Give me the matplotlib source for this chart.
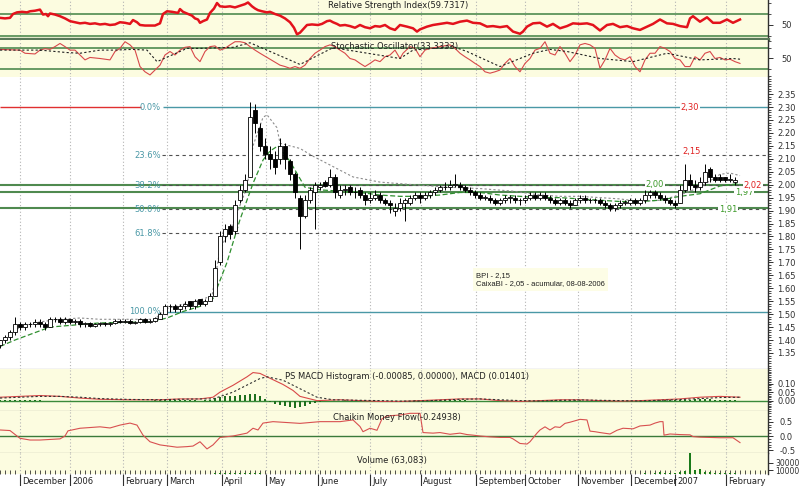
import numpy as np
import matplotlib
matplotlib.use("Agg")
import matplotlib.pyplot as plt
from matplotlib.ticker import FixedLocator, FixedFormatter, MultipleLocator, NullFormatter

plt.rcParams['font.family'] = ['DejaVu Sans']

# x axis: one bar = two sessions, month starts on that scale
month_pos = [4.0, 14.0, 24.6, 33.4, 44.4, 53.2, 63.6, 74.0, 84.2, 95.2, 105.0, 115.6, 126.2, 135.0, 145.2]
month_names = ["December", "2006", "February", "March", "April", "May", "June", "July",
               "August", "September", "October", "November", "December", "2007", "February"]

# price candles
opens = [1.38, 1.40, 1.41, 1.43, 1.46, 1.45, 1.46, 1.46, 1.47, 1.46,
         1.45, 1.48, 1.48, 1.47, 1.48, 1.47, 1.475, 1.46, 1.465, 1.455,
         1.46, 1.465, 1.46, 1.465, 1.475, 1.47, 1.475, 1.465, 1.47, 1.48,
         1.47, 1.475, 1.48, 1.50, 1.53, 1.53, 1.52, 1.53, 1.55, 1.53,
         1.56, 1.54, 1.55, 1.57, 1.70, 1.80, 1.84, 1.82, 1.94, 1.98,
         2.03, 2.29, 2.22, 2.15, 2.12, 2.10, 2.10, 2.15, 2.09, 2.04,
         1.95, 1.88, 1.94, 1.97, 1.99, 2.01, 2.00, 2.03, 1.96, 1.98,
         1.99, 1.97, 1.98, 1.96, 1.94, 1.95, 1.96, 1.94, 1.93, 1.90,
         1.91, 1.93, 1.93, 1.95, 1.96, 1.95, 1.96, 1.97, 1.98, 1.99,
         1.99, 2.00, 2.00, 1.99, 1.98, 1.97, 1.96, 1.95, 1.95, 1.94,
         1.93, 1.94, 1.95, 1.95, 1.94, 1.94, 1.95, 1.96, 1.95, 1.96,
         1.95, 1.94, 1.93, 1.94, 1.93, 1.92, 1.94, 1.95, 1.94, 1.94,
         1.94, 1.93, 1.92, 1.91, 1.92, 1.93, 1.93, 1.94, 1.93, 1.94,
         1.96, 1.97, 1.96, 1.95, 1.94, 1.93, 1.93, 1.98, 2.02, 2.00,
         1.99, 2.01, 2.06, 2.03, 2.03, 2.03, 2.02, 2.01]
highs = [1.40, 1.42, 1.44, 1.49, 1.47, 1.47, 1.47, 1.48, 1.48, 1.47,
         1.49, 1.49, 1.49, 1.49, 1.48, 1.48, 1.48, 1.47, 1.47, 1.465,
         1.47, 1.47, 1.47, 1.48, 1.48, 1.48, 1.48, 1.475, 1.485, 1.485,
         1.48, 1.49, 1.51, 1.54, 1.54, 1.54, 1.54, 1.55, 1.55, 1.56,
         1.56, 1.56, 1.58, 1.71, 1.82, 1.85, 1.85, 1.94, 2.00, 2.04,
         2.32, 2.31, 2.24, 2.18, 2.15, 2.13, 2.18, 2.16, 2.10, 2.05,
         1.96, 1.96, 1.99, 2.01, 2.01, 2.02, 2.06, 2.04, 2.00, 2.00,
         2.00, 1.99, 1.99, 1.97, 1.97, 1.98, 1.97, 1.95, 1.94, 1.93,
         1.95, 1.95, 1.96, 1.97, 1.97, 1.97, 1.98, 1.99, 2.00, 2.01,
         2.02, 2.04, 2.01, 2.00, 1.99, 1.98, 1.97, 1.96, 1.96, 1.95,
         1.95, 1.96, 1.96, 1.96, 1.95, 1.96, 1.97, 1.97, 1.97, 1.97,
         1.96, 1.95, 1.95, 1.95, 1.94, 1.95, 1.96, 1.96, 1.95, 1.95,
         1.95, 1.94, 1.93, 1.93, 1.94, 1.94, 1.95, 1.95, 1.95, 1.98,
         1.98, 1.98, 1.97, 1.96, 1.95, 1.94, 2.00, 2.08, 2.04, 2.02,
         2.03, 2.08, 2.07, 2.04, 2.04, 2.03, 2.04, 2.03]
lows = [1.37, 1.39, 1.40, 1.42, 1.44, 1.44, 1.45, 1.45, 1.45, 1.44,
        1.45, 1.47, 1.46, 1.46, 1.46, 1.46, 1.45, 1.45, 1.45, 1.45,
        1.455, 1.455, 1.455, 1.46, 1.465, 1.465, 1.46, 1.46, 1.465, 1.465,
        1.465, 1.47, 1.48, 1.50, 1.51, 1.51, 1.51, 1.52, 1.52, 1.52,
        1.53, 1.53, 1.55, 1.57, 1.69, 1.78, 1.79, 1.81, 1.93, 1.97,
        2.03, 2.20, 2.13, 2.10, 2.06, 2.04, 2.08, 2.06, 2.02, 1.95,
        1.75, 1.87, 1.93, 1.83, 1.98, 1.99, 1.99, 1.95, 1.95, 1.96,
        1.96, 1.95, 1.95, 1.92, 1.93, 1.94, 1.93, 1.92, 1.89, 1.88,
        1.90, 1.86, 1.92, 1.94, 1.93, 1.94, 1.95, 1.96, 1.97, 1.98,
        1.98, 1.99, 1.98, 1.97, 1.96, 1.95, 1.94, 1.94, 1.93, 1.92,
        1.92, 1.93, 1.93, 1.93, 1.92, 1.93, 1.94, 1.94, 1.94, 1.94,
        1.93, 1.92, 1.92, 1.92, 1.91, 1.92, 1.93, 1.93, 1.93, 1.93,
        1.92, 1.91, 1.90, 1.90, 1.91, 1.92, 1.92, 1.92, 1.92, 1.93,
        1.95, 1.95, 1.94, 1.93, 1.92, 1.91, 1.93, 1.97, 1.98, 1.97,
        1.98, 2.00, 2.01, 2.01, 2.01, 2.01, 2.01, 2.00]
closes = [1.40, 1.41, 1.43, 1.46, 1.45, 1.46, 1.46, 1.47, 1.46, 1.45,
          1.48, 1.48, 1.47, 1.48, 1.47, 1.475, 1.46, 1.465, 1.455, 1.46,
          1.465, 1.46, 1.465, 1.475, 1.47, 1.475, 1.465, 1.47, 1.48, 1.47,
          1.475, 1.485, 1.50, 1.53, 1.53, 1.52, 1.53, 1.54, 1.53, 1.55,
          1.54, 1.55, 1.57, 1.68, 1.80, 1.83, 1.81, 1.92, 1.98, 2.02,
          2.26, 2.24, 2.15, 2.12, 2.10, 2.07, 2.15, 2.10, 2.04, 1.97,
          1.88, 1.94, 1.98, 2.00, 2.00, 1.995, 2.03, 1.97, 1.98, 1.98,
          1.97, 1.97, 1.96, 1.94, 1.95, 1.96, 1.94, 1.93, 1.92, 1.91,
          1.93, 1.94, 1.95, 1.96, 1.95, 1.96, 1.97, 1.98, 1.99, 1.99,
          2.00, 2.00, 1.99, 1.98, 1.97, 1.96, 1.95, 1.95, 1.94, 1.93,
          1.94, 1.95, 1.95, 1.94, 1.94, 1.95, 1.96, 1.95, 1.96, 1.95,
          1.94, 1.93, 1.94, 1.93, 1.92, 1.94, 1.95, 1.94, 1.94, 1.94,
          1.93, 1.92, 1.91, 1.92, 1.93, 1.93, 1.94, 1.93, 1.94, 1.96,
          1.97, 1.96, 1.95, 1.94, 1.93, 1.92, 1.98, 2.02, 2.00, 1.99,
          2.01, 2.05, 2.03, 2.02, 2.02, 2.02, 2.02, 2.02]

# moving averages on the price panel
ma_fast_x = [2, 4, 8, 12, 16, 20, 26, 31, 33, 40, 42.4, 44, 46.6, 49.4, 50.6, 52.6, 53.4, 55.4,
             56, 60, 62.6, 66.6, 70.6, 76, 82.6, 90, 96, 102.6, 108, 112, 116, 120, 124, 128,
             132, 136, 140, 144, 146, 148]
ma_fast = [1.42, 1.45, 1.47, 1.48, 1.485, 1.48, 1.48, 1.48, 1.52, 1.555, 1.57, 1.75, 1.85,
           1.99, 2.15, 2.26, 2.27, 2.22, 2.16, 2.14, 2.11, 2.07, 2.03, 2.01, 2.00, 1.99, 1.985,
           1.975, 1.96, 1.955, 1.955, 1.95, 1.945, 1.935, 1.94, 1.96, 1.99, 2.04, 2.045, 2.035]
ma_slow_x = [0, 3, 10, 20, 30, 33.4, 36.6, 40, 42.6, 45.4, 48, 50.6, 52.6, 54, 55.6, 58, 61,
             64, 68, 72, 76, 80, 84, 88, 92, 96, 100, 104, 108, 112, 116, 120, 124, 128, 132,
             136, 140, 144, 148]
ma_slow = [1.375, 1.40, 1.45, 1.466, 1.47, 1.485, 1.51, 1.53, 1.56, 1.70, 1.865, 2.005, 2.095,
           2.13, 2.15, 2.09, 1.99, 1.98, 1.975, 1.97, 1.96, 1.955, 1.955, 1.96, 1.97, 1.97,
           1.96, 1.955, 1.95, 1.95, 1.945, 1.94, 1.935, 1.935, 1.94, 1.955, 1.965, 1.995, 2.005]

# fibonacci retracement and support levels
fib_top, fib_bottom = 2.30, 1.51
fib_pct = [0.0, 23.6, 38.2, 50.0, 61.8, 100.0]
support = [2.00, 1.97, 1.91]

# RSI
rsi_x = [0, 1, 2, 2.6, 3.4, 4.4, 5.4, 6, 7, 8, 8.6, 9.2, 9.6, 10, 11, 12, 13, 14, 15, 16, 17,
         18, 19, 20, 21, 22, 23, 24, 25, 26, 26.6, 27.4, 28, 29, 30, 31, 32, 32.6, 33.4, 34.4,
         35.6, 36, 36.6, 37.6, 38.4, 39, 39.6, 40, 40.6, 41.4, 42, 42.8, 43.4, 44, 45, 46, 47,
         48, 49, 49.6, 50.4, 51, 51.6, 52.4, 53.4, 54, 55, 56, 57, 58, 58.8, 59.4, 60, 60.6,
         61.4, 62.4, 63.6, 64.4, 65.4, 66, 66.6, 67.4, 68, 69, 70, 71, 72, 73, 74, 75, 76, 77,
         78, 79, 80, 81.4, 82.6, 83.4, 84, 85.4, 86.6, 88, 89.4, 90.6, 92, 93.4, 94.6, 96,
         97.4, 98.6, 100, 101.4, 102.6, 104, 104.6, 105.4, 106.6, 108, 109.4, 110.6, 112,
         113.4, 114.6, 116, 117.4, 118.6, 120, 121.4, 122.6, 124, 125.4, 126.6, 128, 129.4,
         130.6, 132, 133.4, 134.6, 136, 137.4, 138, 138.6, 140, 141.4, 142.6, 144, 145.4,
         146.6, 148]
rsi = [63, 62, 63, 70, 73, 74, 73, 75, 76, 78, 69, 70, 66, 71, 69, 66, 62, 57, 55, 53, 54,
       52, 53, 51, 52, 50, 51, 55, 54, 52, 59, 55, 50, 49, 49, 49, 53, 70, 75, 74,
       72, 79, 74, 70, 67, 62, 60, 54, 57, 60, 72, 80, 90, 84, 83, 84, 82,
       85, 88, 91, 84, 80, 77, 75, 73, 74, 70, 67, 62, 55, 45, 33, 36, 42,
       50, 51, 50, 52, 57, 58, 55, 52, 49, 50, 48, 45, 50, 46, 44, 48, 47, 50,
       44, 41, 50, 47, 44, 38, 42, 47, 50, 52, 54, 52, 56, 58, 54, 53,
       47, 48, 46, 48, 38, 34, 38, 47, 53, 54, 47, 52, 44,
       48, 53, 52, 53, 50, 40, 50, 52, 46, 48, 44, 41, 47,
       52, 60, 53, 52, 48, 46, 62, 66, 56, 64, 54, 54, 60,
       54, 60]

# stochastic %K and %D
stk_x = [0, 4, 5, 7, 8, 9, 10, 11, 12, 13, 14, 15, 16, 17, 18, 20, 22, 23, 24, 25, 26, 27, 28,
         29, 30, 31, 32, 33, 34, 35, 36, 37, 38, 39, 40, 41, 42, 43, 44, 45, 46, 47, 48, 49,
         50, 51, 52, 54, 56, 57, 58, 59, 60, 61, 62, 63, 64, 65, 66, 67, 68, 69, 70, 71, 72,
         73, 74, 75, 76, 77, 78, 79, 80, 80.6, 82, 83, 84, 85, 86, 88, 90, 91, 92, 93, 94, 95,
         96, 97, 98, 99, 100, 101, 102, 103, 104, 105, 106, 107, 108, 109, 110, 111, 112, 113,
         114, 115, 116, 117, 118, 119, 120, 121, 122, 123, 124, 125, 126, 127, 128, 129, 130,
         131, 132, 133, 134, 135, 136, 137, 138, 139, 140, 141, 142, 143, 144, 145, 146, 147,
         148]
stk = [76, 74, 65, 63, 74, 78, 76, 84, 93, 84, 74, 74, 60, 46, 53, 50, 46, 70, 79, 98, 89, 74,
       27, 12, 3, 17, 31, 60, 70, 60, 74, 82, 84, 55, 41, 70, 84, 86, 74, 79, 89, 98, 98, 95,
       84, 74, 65, 48, 31, 27, 22, 27, 22, 31, 50, 65, 74, 84, 89, 84, 74, 65, 50, 46, 36,
       27, 36, 46, 41, 55, 60, 74, 50, 65, 84, 79, 55, 74, 79, 84, 89, 79, 65, 55, 46, 36,
       27, 12, 8, 12, 17, 36, 50, 27, 12, 36, 50, 74, 79, 98, 65, 60, 84, 65,
       41, 60, 89, 93, 89, 79, 22, 46, 79, 60, 50, 46, 55, 27, 12, 46, 65,
       65, 84, 79, 70, 50, 46, 27, 27, 55, 46, 65, 70, 50, 53, 46, 48, 41,
       36]
std_x = [0, 8, 13.4, 16, 20, 22.6, 26.6, 29.4, 31.4, 37.4, 40, 46.6, 50, 60, 66.6, 80, 82.6,
         86.6, 90.6, 93.4, 100, 106.6, 110, 113.4, 120, 126.6, 133.4, 140, 146.6, 148]
std = [74, 74, 67, 65, 74, 74, 76, 74, 41, 79, 79, 82, 95, 33, 81, 50, 74,
       79, 84, 70, 27, 65, 76, 70, 50, 41, 65, 46, 50, 48]

# MACD
macd_x = [0, 4, 8, 12, 16, 20, 26, 32, 36, 40, 42.6, 44, 46.6, 49.4, 50.6, 52, 53.4, 56.6,
          58.6, 60, 63.4, 68, 72, 76, 80, 84, 88, 92, 96, 100, 104, 108, 112, 116, 120, 124,
          128, 132, 136, 140, 144, 148]
macd = [0.02, 0.025, 0.03, 0.025, 0.015, 0.008, 0.005, 0.005, 0.01, 0.01, 0.02, 0.05, 0.09,
        0.14, 0.165, 0.16, 0.14, 0.095, 0.06, 0.025, 0.0, 0.005, 0.0, -0.005, -0.005, 0.0,
        0.005, 0.01, 0.01, 0.0, -0.005, 0.0, 0.005, 0.005, 0.0, -0.003, 0.0, 0.005, 0.01,
        0.02, 0.025, 0.02]
sig_x = [0, 4, 8, 12, 16, 20, 26, 32, 36, 40, 42.6, 46.6, 52, 53.4, 56.6, 60, 63.4, 66.6, 72,
         76, 80, 84, 88, 92, 96, 100, 104, 108, 112, 116, 120, 124, 128, 132, 136, 140, 144,
         148]
sig = [0.015, 0.02, 0.025, 0.025, 0.02, 0.012, 0.007, 0.005, 0.008, 0.01, 0.01, 0.05, 0.13,
       0.14, 0.12, 0.07, 0.02, 0.005, 0.002, 0.0, -0.003, -0.002, 0.002, 0.008, 0.01, 0.005,
       0.0, -0.002, 0.002, 0.004, 0.002, 0.0, -0.002, 0.002, 0.006, 0.012, 0.018, 0.02]
hist = [0.004, 0.005, 0.005, 0.004, 0.004, 0.003, 0.003, 0.002, 0.001, -0.001,
        -0.002, -0.003, -0.003, -0.004, -0.004, -0.003, -0.003, -0.002, -0.002, -0.001,
        -0.001, -0.001, 0.0, -0.001, -0.001, -0.001, 0.0, 0.0, 0.0, 0.0,
        0.0, 0.001, 0.002, 0.003, 0.003, 0.003, 0.002, 0.002, 0.001, 0.001,
        0.0, 0.002, 0.006, 0.015, 0.022, 0.025, 0.028, 0.03, 0.032, 0.036,
        0.04, 0.038, 0.03, 0.012, -0.01, -0.02, -0.028, -0.033, -0.038, -0.042,
        -0.04, -0.032, -0.022, -0.012, -0.006, -0.004, -0.002, -0.002, 0.0, 0.001,
        0.0, -0.001, -0.002, -0.003, -0.004, -0.004, -0.005, -0.004, -0.003, -0.002,
        -0.002, -0.001, 0.0, 0.001, 0.002, 0.003, 0.003, 0.004, 0.004, 0.003,
        0.003, 0.002, 0.002, 0.001, 0.0, -0.001, -0.002, -0.003, -0.004, -0.004,
        -0.004, -0.005, -0.005, -0.004, -0.003, -0.002, -0.001, 0.0, 0.001, 0.002,
        0.002, 0.003, 0.003, 0.002, 0.002, 0.001, 0.001, 0.0, -0.001, -0.002,
        -0.002, -0.003, -0.003, -0.002, -0.002, -0.001, 0.0, 0.0, 0.001, 0.002,
        0.003, 0.003, 0.003, 0.002, 0.002, 0.001, 0.002, 0.004, 0.006, 0.007,
        0.008, 0.008, 0.007, 0.006, 0.005, 0.004, 0.003, 0.002]

# Chaikin money flow
cmf_x = [0, 2, 3.4, 4, 6, 8, 10, 12, 13, 13.6, 16, 20, 22, 24, 26, 27.4, 28.6, 30, 32, 35.4,
         37.4, 38.6, 40, 41.4, 42.6, 44, 46.6, 49.4, 50.6, 51.6, 52.6, 54.6, 60, 64, 68, 70.6,
         72, 72.6, 74, 75.4, 76.4, 77.4, 80, 82, 84, 84.6, 86.6, 88, 90, 92, 93.4, 94.6, 96,
         98, 100, 102, 102.6, 104, 105.4, 106, 107.4, 108, 109, 110, 111, 112, 113, 114, 116,
         117.4, 118, 119, 120, 122, 123.4, 124.6, 126.6, 128, 130, 131, 132, 132.6, 132.8,
         134, 136, 138, 138.6, 140, 142, 144, 146.6, 148]
cmf = [0.21, 0.19, 0.0, -0.08, -0.14, -0.14, -0.12, -0.1, 0.0, 0.18, 0.27, 0.32, 0.28, 0.38,
       0.45, 0.38, 0.03, -0.2, -0.31, -0.39, -0.37, -0.35, -0.2, -0.45, -0.31, -0.05, 0.0,
       0.1, 0.27, 0.21, 0.45, 0.5, 0.44, 0.5, 0.5, 0.56, 0.33, 0.15, 0.27, 0.2, 0.6, 0.7,
       0.73, 0.79, 0.79, 0.12, 0.1, 0.12, 0.06, 0.1, 0.05, 0.03, 0.0, -0.03, -0.05, -0.05,
       -0.1, -0.26, -0.28, -0.2, 0.1, 0.21, 0.32, 0.21, 0.32, 0.3, 0.44, 0.48, 0.58, 0.56,
       0.17, 0.15, 0.12, 0.07, 0.2, 0.27, 0.25, 0.35, 0.38, 0.45, 0.5, 0.5, 0.03, 0.07, 0.05,
       0.04, -0.02, -0.04, -0.05, -0.06, -0.06, -0.23]

# volume
volume = [800, 900, 700, 1200, 600, 700, 800, 600, 700, 900,
          800, 600, 500, 700, 600, 500, 600, 500, 400, 600,
          500, 400, 500, 600, 500, 400, 500, 600, 500, 400,
          500, 700, 900, 1200, 900, 800, 700, 900, 800, 700,
          800, 900, 1200, 1800, 2000, 1500, 1400, 1600, 1800, 2000,
          2400, 1800, 1500, 1200, 1000, 900, 1100, 1000, 900, 1200,
          1500, 1000, 900, 1100, 800, 700, 900, 800, 700, 600,
          700, 600, 500, 700, 600, 500, 600, 700, 800, 600,
          500, 700, 600, 500, 600, 700, 600, 500, 600, 800,
          700, 900, 600, 500, 600, 500, 400, 500, 600, 500,
          400, 500, 600, 500, 400, 500, 600, 500, 600, 500,
          400, 500, 600, 500, 400, 500, 600, 700, 600, 500,
          400, 500, 600, 800, 900, 700, 600, 800, 1200, 1500,
          1200, 2500, 4000, 1500, 3000, 2000, 5000, 8000, 60000, 10000,
          12000, 6000, 4000, 3000, 2000, 2000, 3000, 2000]

price_ticks = [1.35, 1.40, 1.45, 1.50, 1.55, 1.60, 1.65, 1.70, 1.75, 1.80, 1.85, 1.90,
               1.95, 2.00, 2.05, 2.10, 2.15, 2.20, 2.25, 2.30, 2.35]

YELLOW = '#fcfce0'
GRID = '#b4b4b4'
LEVEL_GREEN = '#4f8a4f'
TEAL = '#4a98a6'
DARK = '#303030'

W, H = 800, 486
XMAX = 153.6
fig = plt.figure(figsize=(8, 4.86), dpi=100)


def panel(top, bottom, bg, ylim):
    ax = fig.add_axes([0, 1 - bottom / H, 768 / W, (bottom - top) / H])
    ax.set_facecolor(bg)
    ax.set_xlim(0, XMAX)
    ax.set_ylim(*ylim)
    for s in ['top', 'bottom', 'left']:
        ax.spines[s].set_visible(False)
    ax.spines['right'].set_color(DARK)
    ax.spines['right'].set_linewidth(1)
    ax.yaxis.tick_right()
    ax.tick_params(axis='x', which='both', bottom=False, labelbottom=False)
    ax.tick_params(axis='y', which='major', length=3.5, width=0.7, pad=3, labelsize=6,
                   colors=DARK)
    ax.tick_params(axis='y', which='minor', length=2, width=0.6, colors=DARK)
    for m in month_pos:
        ax.axvline(m, color=GRID, lw=0.8, ls=(0, (1, 2)), zorder=0)
    return ax


def set_yticks(ax, major, labels, minor=None):
    ax.yaxis.set_major_locator(FixedLocator(major))
    ax.yaxis.set_major_formatter(FixedFormatter(labels))
    if minor is not None:
        ax.yaxis.set_minor_locator(minor)
    ax.yaxis.set_minor_formatter(NullFormatter())


def title(ax, px, text, from_top, height):
    ax.text(px / 768 * XMAX, 1 - from_top / height, text, transform=ax.get_xaxis_transform(),
            fontsize=6, ha='left', va='center', color='#202020')


# ---- RSI ----
ax_rsi = panel(0, 39, YELLOW, (24.5, 95.5))
ax_rsi.axhline(70, color=LEVEL_GREEN, lw=1.2)
ax_rsi.axhline(30, color=LEVEL_GREEN, lw=1.2)
ax_rsi.plot(rsi_x, rsi, color='#e3121c', lw=1.8, zorder=3)
ax_rsi.spines['bottom'].set_visible(True)
ax_rsi.spines['bottom'].set_color('#5a785a')
ax_rsi.spines['bottom'].set_linewidth(2.4)
set_yticks(ax_rsi, [50], ['50'], FixedLocator([30, 70, 90]))
ax_rsi.tick_params(axis='y', which='major', pad=6)
title(ax_rsi, 328, 'Relative Strength Index(59.7317)', 6, 39)

# ---- Stochastic ----
ax_st = panel(40, 77, YELLOW, (-2.9, 102.9))
ax_st.axhline(80, color=LEVEL_GREEN, lw=1.2)
ax_st.axhline(20, color=LEVEL_GREEN, lw=1.2)
ax_st.plot(stk_x, stk, color='#d8484a', lw=0.8, zorder=3)
ax_st.plot(std_x, std, color='#202020', lw=0.8, ls=(0, (2, 2)), zorder=3)
set_yticks(ax_st, [50], ['50'], FixedLocator([0, 20, 80, 100]))
ax_st.tick_params(axis='y', which='major', pad=6)
title(ax_st, 331, 'Stochastic Oscillator(33.3333)', 6, 37)

# ---- price ----
ax_p = panel(77, 369, 'white', (1.288, 2.416))
ax_p.spines['bottom'].set_visible(True)
ax_p.spines['bottom'].set_color(DARK)
set_yticks(ax_p, price_ticks, ['%.2f' % v for v in price_ticks], MultipleLocator(0.01))

for lvl in support:
    ax_p.axhline(lvl, color=LEVEL_GREEN, lw=1.5, zorder=1)

fib_levels = [fib_top - p / 100 * (fib_top - fib_bottom) for p in fib_pct]
for p, lvl in zip(fib_pct, fib_levels):
    if p in (0.0, 100.0):
        ax_p.hlines(lvl, 32.6, XMAX, color=TEAL, lw=1.0, zorder=1)
    else:
        ax_p.hlines(lvl, 32.4, XMAX, color='#505050', lw=0.8, ls=(0, (3, 3)), zorder=1)
    ax_p.text(32.2, lvl, '%.1f%%' % p, color=TEAL, fontsize=6, ha='right', va='center',
              zorder=4)
ax_p.hlines(fib_levels[0], 0, 28.2, color='#e03030', lw=1.0, zorder=1)

x = np.arange(len(closes))
o = np.array(opens)
c = np.array(closes)
up = c >= o
ax_p.vlines(x, lows, highs, color='black', lw=0.7, zorder=3)
body_lo = np.minimum(o, c)
body_h = np.maximum(np.abs(c - o), 0.002)
ax_p.bar(x[up], body_h[up], bottom=body_lo[up], width=0.62, facecolor='white',
         edgecolor='black', lw=0.6, zorder=4)
ax_p.bar(x[~up], body_h[~up], bottom=body_lo[~up], width=0.62, facecolor='black',
         edgecolor='black', lw=0.6, zorder=4)

ax_p.plot(ma_fast_x, ma_fast, color='#8c8c8c', lw=0.8, ls=(0, (2, 2)), zorder=2)
ax_p.plot(ma_slow_x, ma_slow, color='#2f8f2f', lw=0.9, ls=(0, (4, 2)), zorder=2)

box = dict(facecolor='white', edgecolor='none', pad=0.6)
ax_p.text(131.0, 2.00, '2,00', color='#3d9a2a', fontsize=6, ha='center', va='center', bbox=box, zorder=5)
ax_p.text(148.8, 1.97, '1,97', color='#3d9a2a', fontsize=6, ha='center', va='center', bbox=box, zorder=5)
ax_p.text(145.6, 1.905, '1,91', color='#3d9a2a', fontsize=6, ha='center', va='center', bbox=box, zorder=5)
ax_p.text(138.0, 2.30, '2,30', color='#e02020', fontsize=6, ha='center', va='center', bbox=box, zorder=5)
ax_p.text(138.4, 2.13, '2,15', color='#e02020', fontsize=6, ha='center', va='center', bbox=box, zorder=5)
ax_p.text(150.6, 1.998, '2,02', color='#e02020', fontsize=6, ha='center', va='center', bbox=box, zorder=5)
ax_p.text(95.2, 1.664, 'BPI - 2,15\nCaixaBI - 2,05 - acumular, 08-08-2006', fontsize=5.5,
          family=['Liberation Sans', 'DejaVu Sans'],
          ha='left', va='top', linespacing=1.3, color='#202020', zorder=5,
          bbox=dict(facecolor='#fdfde6', edgecolor='none', pad=2.5))

# ---- MACD ----
ax_m = panel(369, 411, YELLOW, (-0.061, 0.186))
ax_m.spines['bottom'].set_visible(True)
ax_m.spines['bottom'].set_color(DARK)
ax_m.axhline(0, color='#3a8a3a', lw=1.0, zorder=1)
ax_m.bar(np.arange(len(hist)), hist, width=0.45, color='#1e701e', zorder=2)
ax_m.plot(macd_x, macd, color='#d84848', lw=0.8, zorder=3)
ax_m.plot(sig_x, sig, color='#303030', lw=0.8, ls=(0, (2, 2)), zorder=3)
set_yticks(ax_m, [0.0, 0.05, 0.10], ['0.00', '0.05', '0.10'], MultipleLocator(0.01))
title(ax_m, 285, 'PS MACD Histogram (-0.00085, 0.00000), MACD (0.01401)', 7, 42)

# ---- Chaikin money flow ----
ax_c = panel(411, 453, YELLOW, (-0.592, 0.871))
ax_c.spines['bottom'].set_visible(True)
ax_c.spines['bottom'].set_color(DARK)
ax_c.axhline(0, color='#3a7a3a', lw=1.0, zorder=1)
ax_c.plot(cmf_x, cmf, color='#d85050', lw=0.8, zorder=3)
set_yticks(ax_c, [-0.5, 0.0, 0.5], ['-0.5', '0.0', '0.5'], MultipleLocator(0.1))
ax_c.tick_params(axis='y', which='major', pad=5)
title(ax_c, 333, 'Chaikin Money Flow(-0.24938)', 6, 42)

# ---- volume ----
ax_v = panel(453, 474, YELLOW, (0, 55000))
ax_v.bar(np.arange(len(volume)), volume, width=0.4, color='#1a7a1a', zorder=2)
set_yticks(ax_v, [10000, 30000], ['10000', '30000'])
ax_v.tick_params(axis='y', which='major', pad=2, labelsize=5.5)
title(ax_v, 357, 'Volume (63,083)', 7, 21)
ax_v.tick_params(axis='x', which='major', bottom=True, length=9, width=0.8,
                 direction='out', colors=DARK, labelbottom=False)
ax_v.tick_params(axis='x', which='minor', bottom=True, length=3, width=0.6,
                 direction='in', colors=DARK)
ax_v.xaxis.set_major_locator(FixedLocator(month_pos))
ax_v.xaxis.set_minor_locator(MultipleLocator(1))
for pos, name in zip(month_pos, month_names):
    ax_v.text(pos + 0.4, -0.12, name, transform=ax_v.get_xaxis_transform(), ha='left',
              va='top', fontsize=6, color='#202020', clip_on=False)

fig.savefig('out.png', dpi=100, facecolor='white')
